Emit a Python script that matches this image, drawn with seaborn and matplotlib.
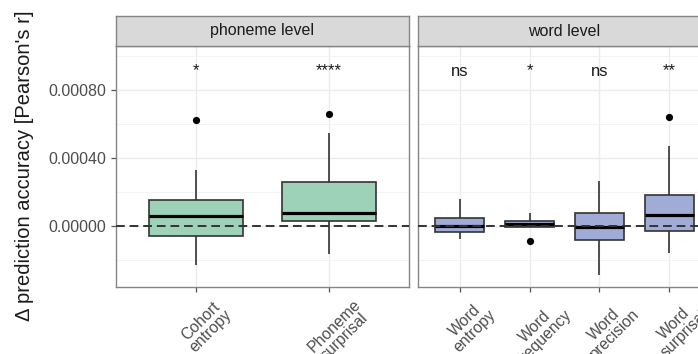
import numpy as np
import pandas as pd
import matplotlib
matplotlib.use("Agg")
import matplotlib.pyplot as plt
import matplotlib.transforms as mtransforms
from matplotlib.ticker import MultipleLocator, FormatStrFormatter
import seaborn as sns

# Five-number summaries (whisker low, Q1, median, Q3, whisker high) of the
# change in prediction accuracy per predictor, plus outliers and significance.
phoneme_features = ["Cohort\nentropy", "Phoneme\nsurprisal"]
phoneme_low = [-0.000230, -0.000165]
phoneme_q1 = [-0.000059, 0.000029]
phoneme_median = [0.000059, 0.000076]
phoneme_q3 = [0.000153, 0.000259]
phoneme_high = [0.000330, 0.000547]
phoneme_outliers = [[0.000624], [0.000659]]
phoneme_signif = ["*", "****"]

word_features = ["Word\nentropy", "Word\nfrequency", "Word\nprecision", "Word\nsurprisal"]
word_low = [-0.000077, -0.000008, -0.000288, -0.000157]
word_q1 = [-0.000034, -0.000008, -0.000084, -0.000028]
word_median = [0.000000, 0.000010, -0.000004, 0.000066]
word_q3 = [0.000049, 0.000031, 0.000078, 0.000184]
word_high = [0.000159, 0.000075, 0.000263, 0.000470]
word_outliers = [[], [-0.000087], [], [0.000639]]
word_signif = ["ns", "*", "ns", "**"]

panel_titles = ["phoneme level", "word level"]
panel_colors = ["#9ed2b8", "#a1acd6"]

y_min, y_max = -0.000359, 0.001059

sns.set_theme(style="white")
plt.rcParams["font.family"] = ["Liberation Sans", "DejaVu Sans"]

W, H = 698, 354
fig = plt.figure(figsize=(W / 100, H / 100), dpi=100)


def px_rect(x0, y0, x1, y1):
    """Figure-fraction rectangle from pixel edges (top-left origin)."""
    return [x0 / W, 1 - y1 / H, (x1 - x0) / W, (y1 - y0) / H]


def draw_panel(ax, features, low, q1, med, q3, high, outliers, signif, color,
               show_y):
    df = pd.DataFrame({
        "feature": np.repeat(features, 5),
        "value": np.column_stack([low, q1, med, q3, high]).ravel(),
    })
    sns.boxplot(data=df, x="feature", y="value", order=features, ax=ax,
                color=color, saturation=1, width=0.7, whis=(0, 100),
                showfliers=False, linecolor="#333333", linewidth=1.2,
                medianprops=dict(color="black", linewidth=2.3),
                capprops=dict(linewidth=0), zorder=3)
    out_df = pd.DataFrame({
        "feature": [f for f, vals in zip(features, outliers) for _ in vals],
        "value": [v for vals in outliers for v in vals],
    })
    sns.stripplot(data=out_df, x="feature", y="value", order=features, ax=ax,
                  jitter=False, color="black", size=5.2, linewidth=0, zorder=5)
    ax.axhline(0, ls=(0, (4.5, 2.5)), color="#333333", lw=1.4, zorder=4)
    for i, s in enumerate(signif):
        ax.text(i, 0.000885, s, ha="center", va="baseline", fontsize=12,
                color="#1a1a1a", zorder=6)

    ax.set_xlim(-0.6, len(features) - 0.4)
    ax.set_ylim(y_min, y_max)
    ax.yaxis.set_major_locator(MultipleLocator(0.0004))
    ax.yaxis.set_minor_locator(MultipleLocator(0.0002))
    ax.yaxis.set_major_formatter(FormatStrFormatter("%.5f"))
    ax.set_facecolor("white")
    ax.set_axisbelow(True)
    ax.grid(which="major", color="#ebebeb", lw=1.0)
    ax.grid(which="minor", axis="y", color="#f3f3f3", lw=0.7)
    for sp in ax.spines.values():
        sp.set_visible(True)
        sp.set_color("#858585")
        sp.set_linewidth(1.0)
    ax.set_xlabel("")
    ax.set_ylabel("")
    ax.tick_params(axis="both", which="major", length=3.5, width=0.9,
                   color="#555555", labelcolor="#4d4d4d", labelsize=11.5,
                   bottom=True, left=show_y, labelleft=show_y)
    ax.tick_params(axis="y", which="minor", length=0)
    ax.set_xticks(range(len(features)))
    ax.set_xticklabels(features, rotation=45, ha="center", va="top",
                       fontsize=11.3, linespacing=0.95, color="#4d4d4d")
    shift = mtransforms.ScaledTranslation(10 / 100, 0, fig.dpi_scale_trans)
    for lbl in ax.get_xticklabels():
        lbl.set_transform(lbl.get_transform() + shift)


panels = [
    (px_rect(116, 46, 409, 287), phoneme_features, phoneme_low, phoneme_q1,
     phoneme_median, phoneme_q3, phoneme_high, phoneme_outliers,
     phoneme_signif, True),
    (px_rect(418, 46, 711, 287), word_features, word_low, word_q1,
     word_median, word_q3, word_high, word_outliers, word_signif, False),
]

for (rect, feats, lo, a, m, b, hi, outs, sig, show_y), title, col in zip(
        panels, panel_titles, panel_colors):
    ax = fig.add_axes(rect)
    draw_panel(ax, feats, lo, a, m, b, hi, outs, sig, col, show_y)
    # facet strip above the panel
    strip = fig.add_axes([rect[0], rect[1] + rect[3], rect[2], 30 / H])
    strip.set_facecolor("#d9d9d9")
    strip.set_xticks([])
    strip.set_yticks([])
    for sp in strip.spines.values():
        sp.set_visible(True)
        sp.set_color("#858585")
        sp.set_linewidth(1.0)
    strip.text(0.5, 0.5, title, ha="center", va="center", fontsize=11.5,
               color="#1a1a1a", transform=strip.transAxes)

fig.text(25 / W, 1 - 166 / H, "Δ prediction accuracy [Pearson's r]",
         rotation=90, ha="center", va="center", fontsize=14.5,
         color="#1a1a1a")

fig.savefig("out.png", dpi=100, facecolor="white")
